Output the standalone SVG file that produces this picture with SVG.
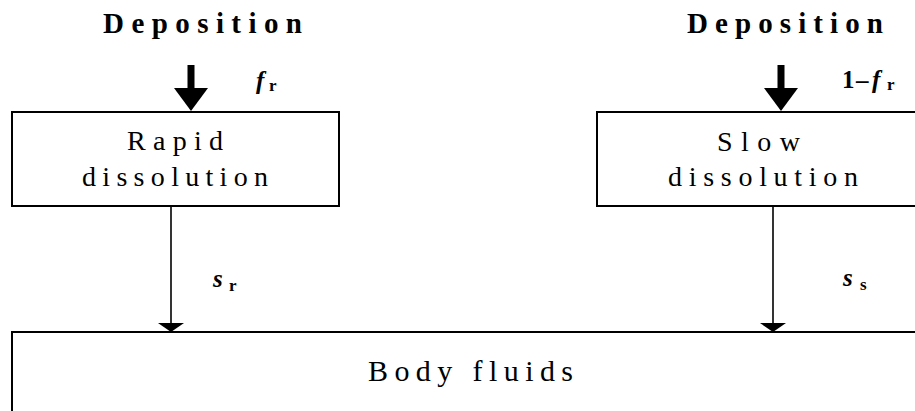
<svg xmlns="http://www.w3.org/2000/svg" width="915" height="411" viewBox="0 0 915 411">
<style>
.box{fill:#fff;stroke:#000;stroke-width:2}
.thin{stroke:#000;stroke-width:1.6;fill:none}
text{font-family:"Liberation Serif","Times New Roman",serif;fill:#000}
.dep{font-size:29px;font-weight:bold}
.lbl{font-size:28px}
.var{font-size:25px;font-weight:bold;font-style:italic}
.num{font-size:25px;font-weight:bold}
.sub{font-size:17px;font-weight:bold}
</style>
<g id="dep-left">
<text class="dep" x="103" y="33" textLength="199" lengthAdjust="spacing">Deposition</text>
</g>
<g id="dep-right">
<text class="dep" x="687" y="33" textLength="196" lengthAdjust="spacing">Deposition</text>
</g>
<g id="rapid">
<rect class="box" x="12" y="112" width="327" height="94"/>
<text class="lbl" x="127" y="150" textLength="96" lengthAdjust="spacing">Rapid</text>
<text class="lbl" x="82" y="186" textLength="186" lengthAdjust="spacing">dissolution</text>
</g>
<g id="slow">
<rect class="box" x="597" y="112" width="330" height="94"/>
<text class="lbl" x="717" y="151" textLength="83" lengthAdjust="spacing">Slow</text>
<text class="lbl" x="668" y="186" textLength="190" lengthAdjust="spacing">dissolution</text>
</g>
<g id="body">
<rect class="box" x="12" y="332" width="920" height="100"/>
<text class="lbl" x="368" y="381" textLength="205" lengthAdjust="spacing" style="font-size:30px">Body fluids</text>
</g>
<g id="connectors">
<rect x="187.5" y="65" width="7" height="24" fill="#000"/>
<path d="M174,88 L208,88 L191,111 Z" fill="#000"/>
<rect x="777.5" y="65" width="7" height="24" fill="#000"/>
<path d="M764,88 L798,88 L781,111 Z" fill="#000"/>
<line class="thin" x1="171" y1="207" x2="171" y2="323"/>
<path d="M158,323 L184,323 L171,332 Z" fill="#000"/>
<line class="thin" x1="773" y1="207" x2="773" y2="323"/>
<path d="M760,323 L786,323 L773,332 Z" fill="#000"/>
<text class="var" x="256" y="89">f</text>
<text class="sub" x="269" y="91">r</text>
<text class="num" x="842" y="88">1</text>
<text class="num" x="856" y="88">–</text>
<text class="var" x="872" y="88">f</text>
<text class="sub" x="887" y="90">r</text>
<text class="var" x="213" y="287">s</text>
<text class="sub" x="229" y="291">r</text>
<text class="var" x="843" y="286">s</text>
<text class="sub" x="860" y="290">s</text>
</g>
</svg>
